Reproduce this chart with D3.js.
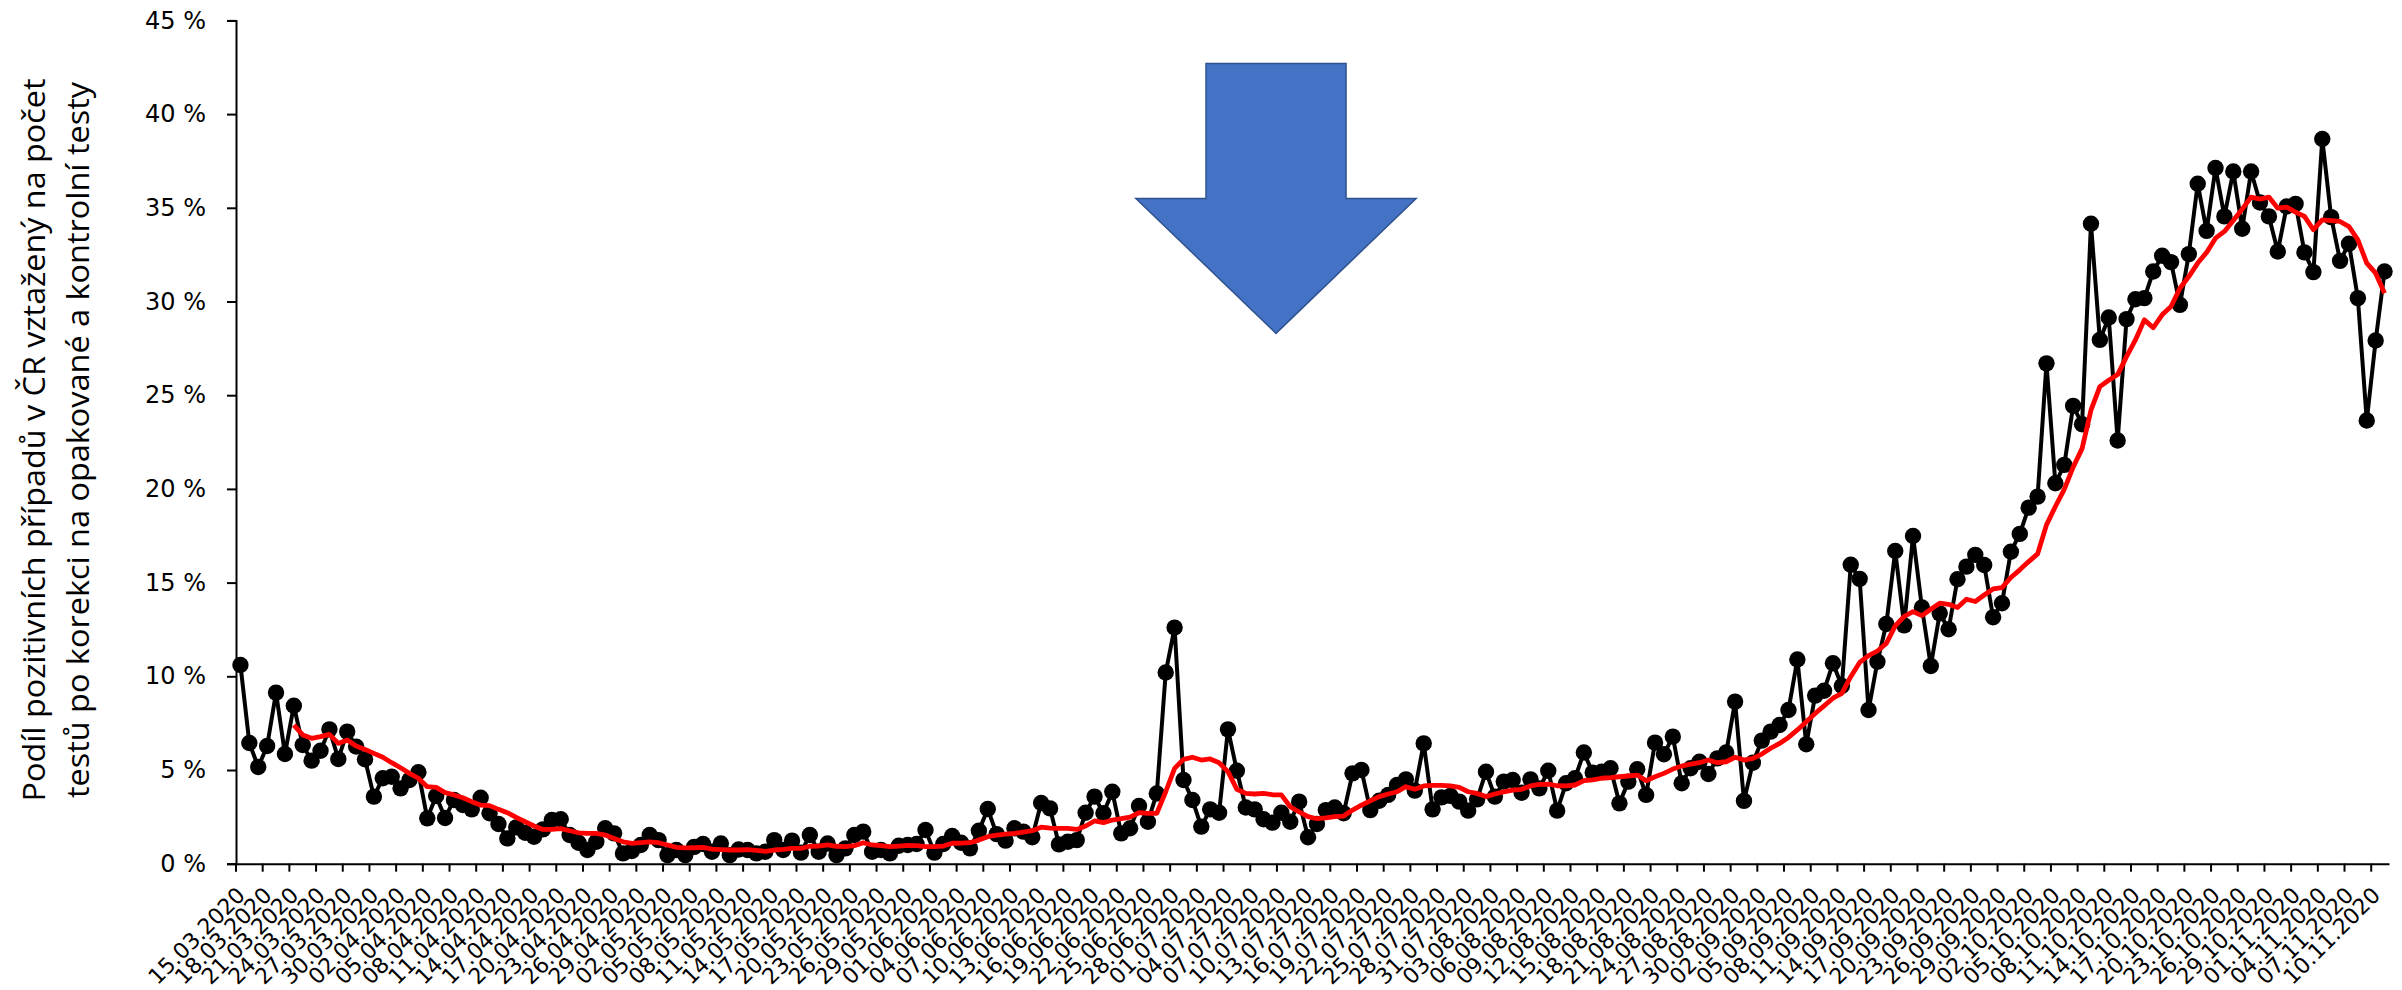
<!DOCTYPE html>
<html>
<head>
<meta charset="utf-8">
<script src="https://cdn.jsdelivr.net/npm/d3@7"></script>
<style>
  body { margin: 0; background: #fff; }
  svg { display: block; }
</style>
</head>
<body>
<svg id="chart" width="2402" height="990"></svg>
<script>
// Daily share of positive tests (%), 15.03.2020 - 11.11.2020
const positivity = [
  10.6, 6.44, 5.16, 6.28, 9.13, 5.85, 8.43, 6.33, 5.5, 6.03,
  7.17, 5.59, 7.05, 6.25, 5.57, 3.58, 4.56, 4.64, 4.02, 4.47,
  4.88, 2.42, 3.61, 2.44, 3.4, 3.13, 2.9, 3.52, 2.69, 2.12,
  1.35, 1.94, 1.65, 1.44, 1.83, 2.33, 2.37, 1.53, 1.12, 0.73,
  1.17, 1.89, 1.62, 0.55, 0.68, 1.0, 1.53, 1.26, 0.46, 0.73,
  0.46, 0.9, 1.05, 0.64, 1.08, 0.46, 0.76, 0.73, 0.55, 0.64,
  1.26, 0.73, 1.23, 0.59, 1.53, 0.64, 1.08, 0.46, 0.82, 1.53,
  1.71, 0.64, 0.73, 0.55, 0.96, 1.0, 1.05, 1.8, 0.59, 1.05,
  1.48, 1.12, 0.82, 1.76, 2.92, 1.58, 1.23, 1.89, 1.71, 1.41,
  3.24, 2.95, 1.03, 1.17, 1.26, 2.72, 3.58, 2.69, 3.84, 1.62,
  1.89, 3.08, 2.24, 3.75, 10.2, 12.6, 4.47, 3.4, 1.98, 2.9,
  2.72, 7.17, 4.96, 3.0, 2.9, 2.37, 2.19, 2.72, 2.24, 3.31,
  1.41, 2.12, 2.86, 3.0, 2.69, 4.82, 5.0, 2.86, 3.36, 3.67,
  4.2, 4.5, 3.9, 6.42, 2.9, 3.54, 3.62, 3.31, 2.83, 3.43,
  4.91, 3.58, 4.38, 4.47, 3.79, 4.5, 4.02, 4.96, 2.83, 4.29,
  4.56, 5.93, 4.86, 4.91, 5.09, 3.22, 4.38, 5.04, 3.67, 6.46,
  5.84, 6.78, 4.29, 5.09, 5.44, 4.79, 5.62, 5.93, 8.65, 3.35,
  5.39, 6.57, 7.05, 7.4, 8.2, 10.9, 6.37, 8.97, 9.23, 10.7,
  9.48, 15.95, 15.2, 8.2, 10.78, 12.79, 16.69, 12.72, 17.49, 13.67,
  10.55, 13.36, 12.51, 15.18, 15.85, 16.48, 15.94, 13.15, 13.9, 16.65,
  17.6, 19.0, 19.59, 26.7, 20.3, 21.28, 24.43, 23.45, 34.15, 27.95,
  29.15, 22.58, 29.06, 30.12, 30.18, 31.6, 32.44, 32.1, 29.82, 32.53,
  36.28, 33.77, 37.12, 34.54, 36.94, 33.88, 36.94, 35.28, 34.54, 32.67,
  35.07, 35.21, 32.62, 31.57, 38.67, 34.5, 32.17, 33.08, 30.18, 23.65,
  27.92, 31.6
]

// 7-day average line (starts on the 7th day)
const average = [
  null, null, null, null, null, null, 7.4, 6.87, 6.69, 6.78,
  6.9, 6.42, 6.6, 6.28, 6.1, 5.89, 5.68, 5.39, 5.12, 4.82,
  4.56, 4.11, 4.07, 3.79, 3.67, 3.52, 3.31, 3.13, 3.1, 2.9,
  2.72, 2.47, 2.24, 2.01, 1.83, 1.83, 1.87, 1.76, 1.65, 1.62,
  1.62, 1.53, 1.35, 1.17, 1.09, 1.12, 1.16, 1.12, 1.0, 0.87,
  0.84, 0.85, 0.87, 0.78, 0.75, 0.73, 0.73, 0.75, 0.71, 0.66,
  0.73, 0.76, 0.82, 0.82, 0.93, 0.94, 1.0, 0.93, 0.91, 0.96,
  1.12, 1.0, 0.96, 0.91, 0.94, 0.98, 0.96, 0.91, 0.91, 0.94,
  1.09, 1.1, 1.12, 1.26, 1.44, 1.53, 1.58, 1.62, 1.69, 1.76,
  1.95, 1.9, 1.89, 1.89, 1.83, 2.01, 2.28, 2.19, 2.33, 2.4,
  2.49, 2.72, 2.69, 2.69, 3.84, 5.09, 5.57, 5.68, 5.53, 5.59,
  5.39, 4.91, 3.97, 3.75, 3.72, 3.75, 3.68, 3.67, 3.04, 2.76,
  2.51, 2.4, 2.44, 2.51, 2.54, 2.86, 3.13, 3.36, 3.58, 3.72,
  3.84, 4.11, 3.97, 4.15, 4.18, 4.18, 4.15, 4.07, 3.84, 3.75,
  3.58, 3.72, 3.83, 3.93, 3.97, 4.15, 4.23, 4.25, 4.16, 4.15,
  4.2, 4.43, 4.47, 4.56, 4.59, 4.64, 4.68, 4.73, 4.43, 4.64,
  4.82, 5.05, 5.21, 5.32, 5.39, 5.53, 5.39, 5.44, 5.68, 5.53,
  5.62, 5.85, 6.16, 6.42, 6.74, 7.14, 7.58, 8.02, 8.42, 8.83,
  9.09, 9.98, 10.74, 11.1, 11.35, 11.76, 12.69, 13.19, 13.45, 13.24,
  13.58, 13.9, 13.84, 13.67, 14.11, 13.99, 14.34, 14.66, 14.73, 15.27,
  15.68, 16.12, 16.53, 18.08, 19.06, 19.98, 21.16, 22.15, 24.2, 25.46,
  25.8, 26.1, 27.06, 27.95, 29.02, 28.6, 29.29, 29.73, 30.71, 31.33,
  32.05, 32.62, 33.38, 33.74, 34.32, 34.93, 35.57, 35.46, 35.57, 34.98,
  35.04, 34.77, 34.54, 33.83, 34.36, 34.32, 34.27, 34.0, 33.29, 32.05,
  31.51, 30.44
]

// every third day gets a label
const tickLabels = [
  '15.03.2020', '18.03.2020', '21.03.2020', '24.03.2020', '27.03.2020', '30.03.2020',
  '02.04.2020', '05.04.2020', '08.04.2020', '11.04.2020', '14.04.2020', '17.04.2020',
  '20.04.2020', '23.04.2020', '26.04.2020', '29.04.2020', '02.05.2020', '05.05.2020',
  '08.05.2020', '11.05.2020', '14.05.2020', '17.05.2020', '20.05.2020', '23.05.2020',
  '26.05.2020', '29.05.2020', '01.06.2020', '04.06.2020', '07.06.2020', '10.06.2020',
  '13.06.2020', '16.06.2020', '19.06.2020', '22.06.2020', '25.06.2020', '28.06.2020',
  '01.07.2020', '04.07.2020', '07.07.2020', '10.07.2020', '13.07.2020', '16.07.2020',
  '19.07.2020', '22.07.2020', '25.07.2020', '28.07.2020', '31.07.2020', '03.08.2020',
  '06.08.2020', '09.08.2020', '12.08.2020', '15.08.2020', '18.08.2020', '21.08.2020',
  '24.08.2020', '27.08.2020', '30.08.2020', '02.09.2020', '05.09.2020', '08.09.2020',
  '11.09.2020', '14.09.2020', '17.09.2020', '20.09.2020', '23.09.2020', '26.09.2020',
  '29.09.2020', '02.10.2020', '05.10.2020', '08.10.2020', '11.10.2020', '14.10.2020',
  '17.10.2020', '20.10.2020', '23.10.2020', '26.10.2020', '29.10.2020', '01.11.2020',
  '04.11.2020', '07.11.2020', '10.11.2020'
]
const yTicks = [0, 5, 10, 15, 20, 25, 30, 35, 40, 45]
const titleLines = [
  'Podíl pozitivních případů v ČR vztažený na počet',
  'testů po korekci na opakované a kontrolní testy'
]

const svg = d3.select('#chart')
const margin = {top: 20.4, right: 13, bottom: 126.3, left: 236}
const width = 2402 - margin.left - margin.right
const height = 990 - margin.top - margin.bottom

const days = d3.range(positivity.length)
const x = d3.scaleBand().domain(days).range([margin.left, margin.left + width]).padding(0)
const y = d3.scaleLinear().domain([0, 45]).range([margin.top + height, margin.top])
const bw = x.bandwidth()
const cx = d => x(d) + bw / 2

svg.append('rect').attr('width', 2402).attr('height', 990).attr('fill', '#fff')

// Axis title (two rotated lines)
svg.append('g')
  .selectAll('text')
  .data(titleLines)
  .enter()
  .append('text')
  .attr('transform', (d, i) => 'translate(' + (45 + i * 44) + ',440) rotate(-90)')
  .attr('text-anchor', 'middle')
  .attr('font-family', '"Open Sans", sans-serif')
  .attr('font-size', 31)
  .attr('textLength', (d, i) => i === 0 ? 723 : 716)
  .attr('lengthAdjust', 'spacingAndGlyphs')
  .attr('fill', '#000')
  .text(d => d)

// Y axis
const yAxis = svg.append('g')
  .attr('class', 'axis axis-y')
  .attr('transform', 'translate(' + margin.left + ',0)')
  .call(d3.axisLeft(y).tickValues(yTicks).tickSize(9).tickPadding(21).tickFormat(d => d + ' %'))
yAxis.select('.domain').attr('stroke', '#000').attr('stroke-width', 2)
yAxis.selectAll('.tick line').attr('stroke', '#000').attr('stroke-width', 2)
yAxis.selectAll('.tick text')
  .attr('font-family', '"DejaVu Sans", Verdana, sans-serif')
  .attr('font-size', 24)
  .attr('fill', '#000')

// X axis: tick marks on category boundaries, labels every 3rd day
const labelDays = days.filter(d => d % 3 === 0)
const xAxis = svg.append('g')
  .attr('class', 'axis axis-x')
  .attr('transform', 'translate(0,' + (margin.top + height) + ')')
  .call(d3.axisBottom(x).tickValues(labelDays).tickSizeOuter(0).tickFormat(d => tickLabels[d / 3]))
xAxis.select('.domain').attr('stroke', '#000').attr('stroke-width', 2)
xAxis.selectAll('.tick line')
  .attr('x1', -bw / 2).attr('x2', -bw / 2)
  .attr('y2', 8)
  .attr('stroke', '#000').attr('stroke-width', 2)
xAxis.selectAll('.tick text')
  .attr('x', 0).attr('y', 0).attr('dy', 0)
  .attr('transform', 'translate(6,33) rotate(-45)')
  .attr('text-anchor', 'end')
  .attr('font-family', '"DejaVu Sans", Verdana, sans-serif')
  .attr('font-size', 22)
  .attr('fill', '#000')

// Daily values: black line with dots
const line = d3.line().x(d => cx(d)).y(d => y(positivity[d]))
svg.append('path')
  .datum(days)
  .attr('d', line)
  .attr('fill', 'none')
  .attr('stroke', '#000')
  .attr('stroke-width', 4)
  .attr('stroke-linejoin', 'round')

svg.append('g')
  .selectAll('circle')
  .data(days)
  .enter()
  .append('circle')
  .attr('cx', d => cx(d))
  .attr('cy', d => y(positivity[d]))
  .attr('r', 8.2)
  .attr('fill', '#000')

// Moving average in red on top
const avgLine = d3.line()
  .defined(d => average[d] != null)
  .x(d => cx(d))
  .y(d => y(average[d]))
svg.append('path')
  .datum(days)
  .attr('d', avgLine)
  .attr('fill', 'none')
  .attr('stroke', '#ff0000')
  .attr('stroke-width', 4.8)
  .attr('stroke-linejoin', 'round')

// Big blue arrow, placed in chart units
const xDay = d3.scaleLinear().domain([0, positivity.length]).range([margin.left, margin.left + width])
const arrow = {center: 116.9, shaft: 7.87, head: 15.75, top: 42.7, shoulder: 35.5, tip: 28.3}
const arrowPts = [
  [arrow.center - arrow.shaft, arrow.top],
  [arrow.center + arrow.shaft, arrow.top],
  [arrow.center + arrow.shaft, arrow.shoulder],
  [arrow.center + arrow.head, arrow.shoulder],
  [arrow.center, arrow.tip],
  [arrow.center - arrow.head, arrow.shoulder],
  [arrow.center - arrow.shaft, arrow.shoulder]
]
svg.append('path')
  .attr('d', 'M' + arrowPts.map(p => xDay(p[0]) + ',' + y(p[1])).join('L') + 'Z')
  .attr('fill', '#4472c4')
  .attr('stroke', '#2f528f')
  .attr('stroke-width', 1.5)
</script>
</body>
</html>
